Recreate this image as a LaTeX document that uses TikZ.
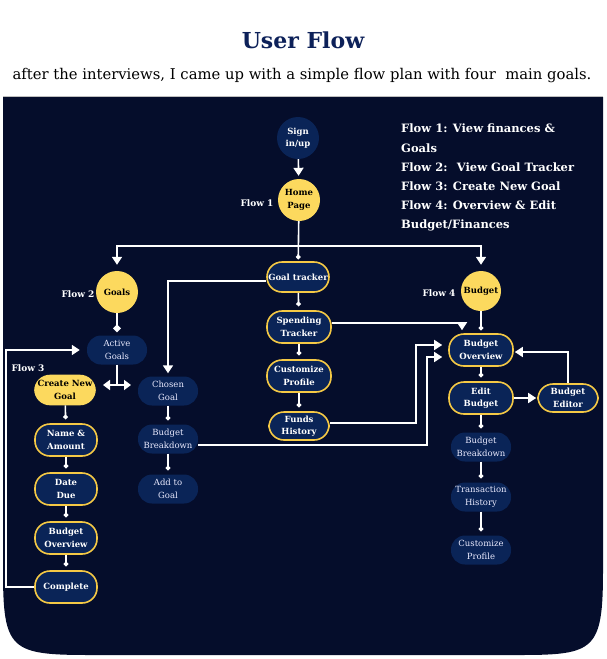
\documentclass[tikz,border=0pt]{standalone}
\usepackage{fontspec}
\setmainfont{DejaVu Serif}
\usepackage{xcolor}
\usepackage{tikz}
\definecolor{panel}{rgb}{0.02,0.05,0.17}
\definecolor{navy}{rgb}{0.04,0.14,0.34}
\definecolor{gold}{rgb}{0.99,0.85,0.37}
\definecolor{rim}{rgb}{0.96,0.79,0.27}
\definecolor{ttl}{rgb}{0.05,0.13,0.35}
\usetikzlibrary{arrows.meta,positioning}
\newcommand{\cardfont}{\fontsize{8.5}{12.5}\selectfont}
\tikzset{
  conn/.style={white, line width=1.6pt},
  tritip/.style={-{Triangle[length=8pt,width=10pt]}},
  dottip/.style={-{Circle[length=4.5pt]}},
  gcirc/.style={circle, fill=gold, minimum size=42pt, inner sep=0pt, text=black, font=\cardfont\bfseries, align=center},
  pill/.style={rectangle, rounded corners=15pt, fill=navy, draw=rim, line width=1.6pt, minimum width=62pt, minimum height=30pt, inner sep=1pt, text=white, font=\cardfont\bfseries, align=center},
  soft/.style={rectangle, rounded corners=14pt, fill=navy, minimum width=60pt, minimum height=29pt, inner sep=1pt, text=white!92!blue, font=\cardfont, align=center},
  flowlbl/.style={text=white, font=\fontsize{9}{10}\selectfont\bfseries},
}

\begin{document}
\begin{tikzpicture}[x=1pt,y=-1pt]
\useasboundingbox (0,0) rectangle (606,659);
\fill[white] (0,0) rectangle (606,659);
% heading
\node[font=\fontsize{22}{26}\selectfont\bfseries, text=ttl] (title) at (303,40) {User Flow};
\node[font=\fontsize{14.8}{17}\selectfont] (sub) at (302,76) {after the interviews, I came up with a simple flow plan with four~ main goals.};
% dark card
\fill[panel] (3,97) -- (603,97) -- (603,570) .. controls (603,650) and (595,655) .. (520,655) -- (90,655) .. controls (10,655) and (3,650) .. (3,570) -- cycle;
\draw[gray!50, line width=0.8pt] (3,96) -- (603,96);

% legend
\node[anchor=north west, inner sep=0pt, text=white, align=left, font=\fontsize{11.5}{19.2}\selectfont\bfseries] (legend) at (401,124)
  {Flow 1: View finances \&\\Goals\\Flow 2:~ View Goal Tracker\\Flow 3: Create New Goal\\Flow 4: Overview \& Edit\\Budget/Finances};

% flow 1
\node[circle, fill=navy, minimum size=42pt, inner sep=0pt, text=white, font=\cardfont\bfseries, align=center] (signin) at (298,138) {Sign\\in/up};
\node[gcirc] (home) at (299,200) {Home\\Page};
\node[flowlbl] (flow1) at (257,203) {Flow 1};
\node[pill] (goaltr) at (298,277) {Goal tracker};
\node[pill, minimum height=32pt, minimum width=64pt] (spend) at (299,327) {Spending\\Tracker};
\node[pill, minimum height=32pt, minimum width=64pt] (custom) at (299,376) {Customize\\Profile};
\node[pill, minimum height=28pt, minimum width=60pt] (funds) at (299,426) {Funds\\History};

% flow 2
\node[gcirc] (goals) at (117,292) {Goals};
\node[flowlbl] (flow2) at (78,294) {Flow 2};
\node[soft] (active) at (117,350) {Active\\Goals};
\node[soft] (chosen) at (168,391) {Chosen\\Goal};
\node[soft] (bbreak) at (168,439) {Budget\\Breakdown};
\node[soft] (addgoal) at (168,489) {Add to\\Goal};

% flow 3
\node[flowlbl] (flow3) at (28,368) {Flow 3};
\node[pill, fill=gold, draw=gold, text=black, minimum width=60pt, minimum height=29pt] (create) at (65,390) {Create New\\Goal};
\node[pill, minimum height=32pt] (name) at (66,440) {Name \&\\Amount};
\node[pill, minimum height=32pt] (date) at (66,489) {Date\\Due};
\node[pill, minimum height=32pt] (bovl) at (66,538) {Budget\\Overview};
\node[pill, minimum height=32pt] (complete) at (66,587) {Complete};

% flow 4
\node[gcirc, minimum size=40pt] (budget) at (481,291) {Budget};
\node[flowlbl] (flow4) at (439,293) {Flow 4};
\node[pill, minimum height=32pt, minimum width=64pt] (bovr) at (481,350) {Budget\\Overview};
\node[pill, minimum height=32pt, minimum width=64pt] (edit) at (481,398) {Edit\\Budget};
\node[pill, minimum height=28pt, minimum width=60pt] (editor) at (568,398) {Budget\\Editor};
\node[soft] (bbreakr) at (481,447) {Budget\\Breakdown};
\node[soft] (trans) at (481,497) {Transaction\\History};
\node[soft] (customr) at (481,550) {Customize\\Profile};

% connectors
\coordinate (split) at (299,246);
\coordinate (fork) at (117,385);
\coordinate (forkl) at (103,385);
\coordinate (forkr) at (131,385);
\draw[conn,tritip,shorten >=3pt] (signin) -- (home);
\draw[conn,dottip,shorten >=2pt] (home) -- (goaltr);
\draw[conn,tritip,shorten >=6pt] (split) -| (goals);
\draw[conn,tritip,shorten >=6pt] (split) -| (budget);
\draw[conn,tritip,shorten >=3pt] ([yshift=-4pt]goaltr.west) -| (chosen);
\draw[conn,dottip,shorten >=4pt] (goaltr) -- (spend);
\draw[conn,dottip,shorten >=4pt] (spend) -- (custom);
\draw[conn,dottip,shorten >=4pt] (custom) -- (funds);

\draw[conn,-{Diamond[length=8pt,width=8pt]},shorten >=3pt] (goals) -- (active);
\draw[conn] (active) -- (fork);
\draw[conn,{Triangle[length=7pt,width=10pt]}-{Triangle[length=7pt,width=10pt]}] (forkl) -- (forkr);
\draw[conn,dottip,shorten >=4pt] (chosen) -- (bbreak);
\draw[conn,dottip,shorten >=4pt] (bbreak) -- (addgoal);

\draw[conn,dottip,shorten >=4pt] (create) -- (name);
\draw[conn,dottip,shorten >=4pt] (name) -- (date);
\draw[conn,dottip,shorten >=4pt] (date) -- (bovl);
\draw[conn,dottip,shorten >=4pt] (bovl) -- (complete);
\draw[conn,tritip,shorten >=7pt] (complete.west) -- ++(-28,0) |- (active.west); % back to goals

\draw[conn,dottip,shorten >=3pt] (budget) -- (bovr);
\draw[conn,tritip,shorten >=3pt] ([yshift=4pt]spend.east) -| ([xshift=-19pt]bovr.north);
\draw[conn,tritip,shorten >=6pt] ([yshift=3pt]funds.east) -- ++(86,0) |- ([yshift=5pt]bovr.west);
\draw[conn,tritip,shorten >=6pt] ([yshift=-6pt]bbreak.east) -- ++(229,0) |- ([yshift=-7pt]bovr.west);
\draw[conn,dottip,shorten >=4pt] (bovr) -- (edit);
\draw[conn,tritip,shorten >=1pt] (edit) -- (editor);
\draw[conn,tritip,shorten >=1pt] (editor.north) |- ([yshift=-2pt]bovr.east);
\draw[conn,dottip,shorten >=4pt] (edit) -- (bbreakr);
\draw[conn,dottip,shorten >=4pt] (bbreakr) -- (trans);
\draw[conn,dottip,shorten >=4pt] (trans) -- (customr);
\end{tikzpicture}
\end{document}
